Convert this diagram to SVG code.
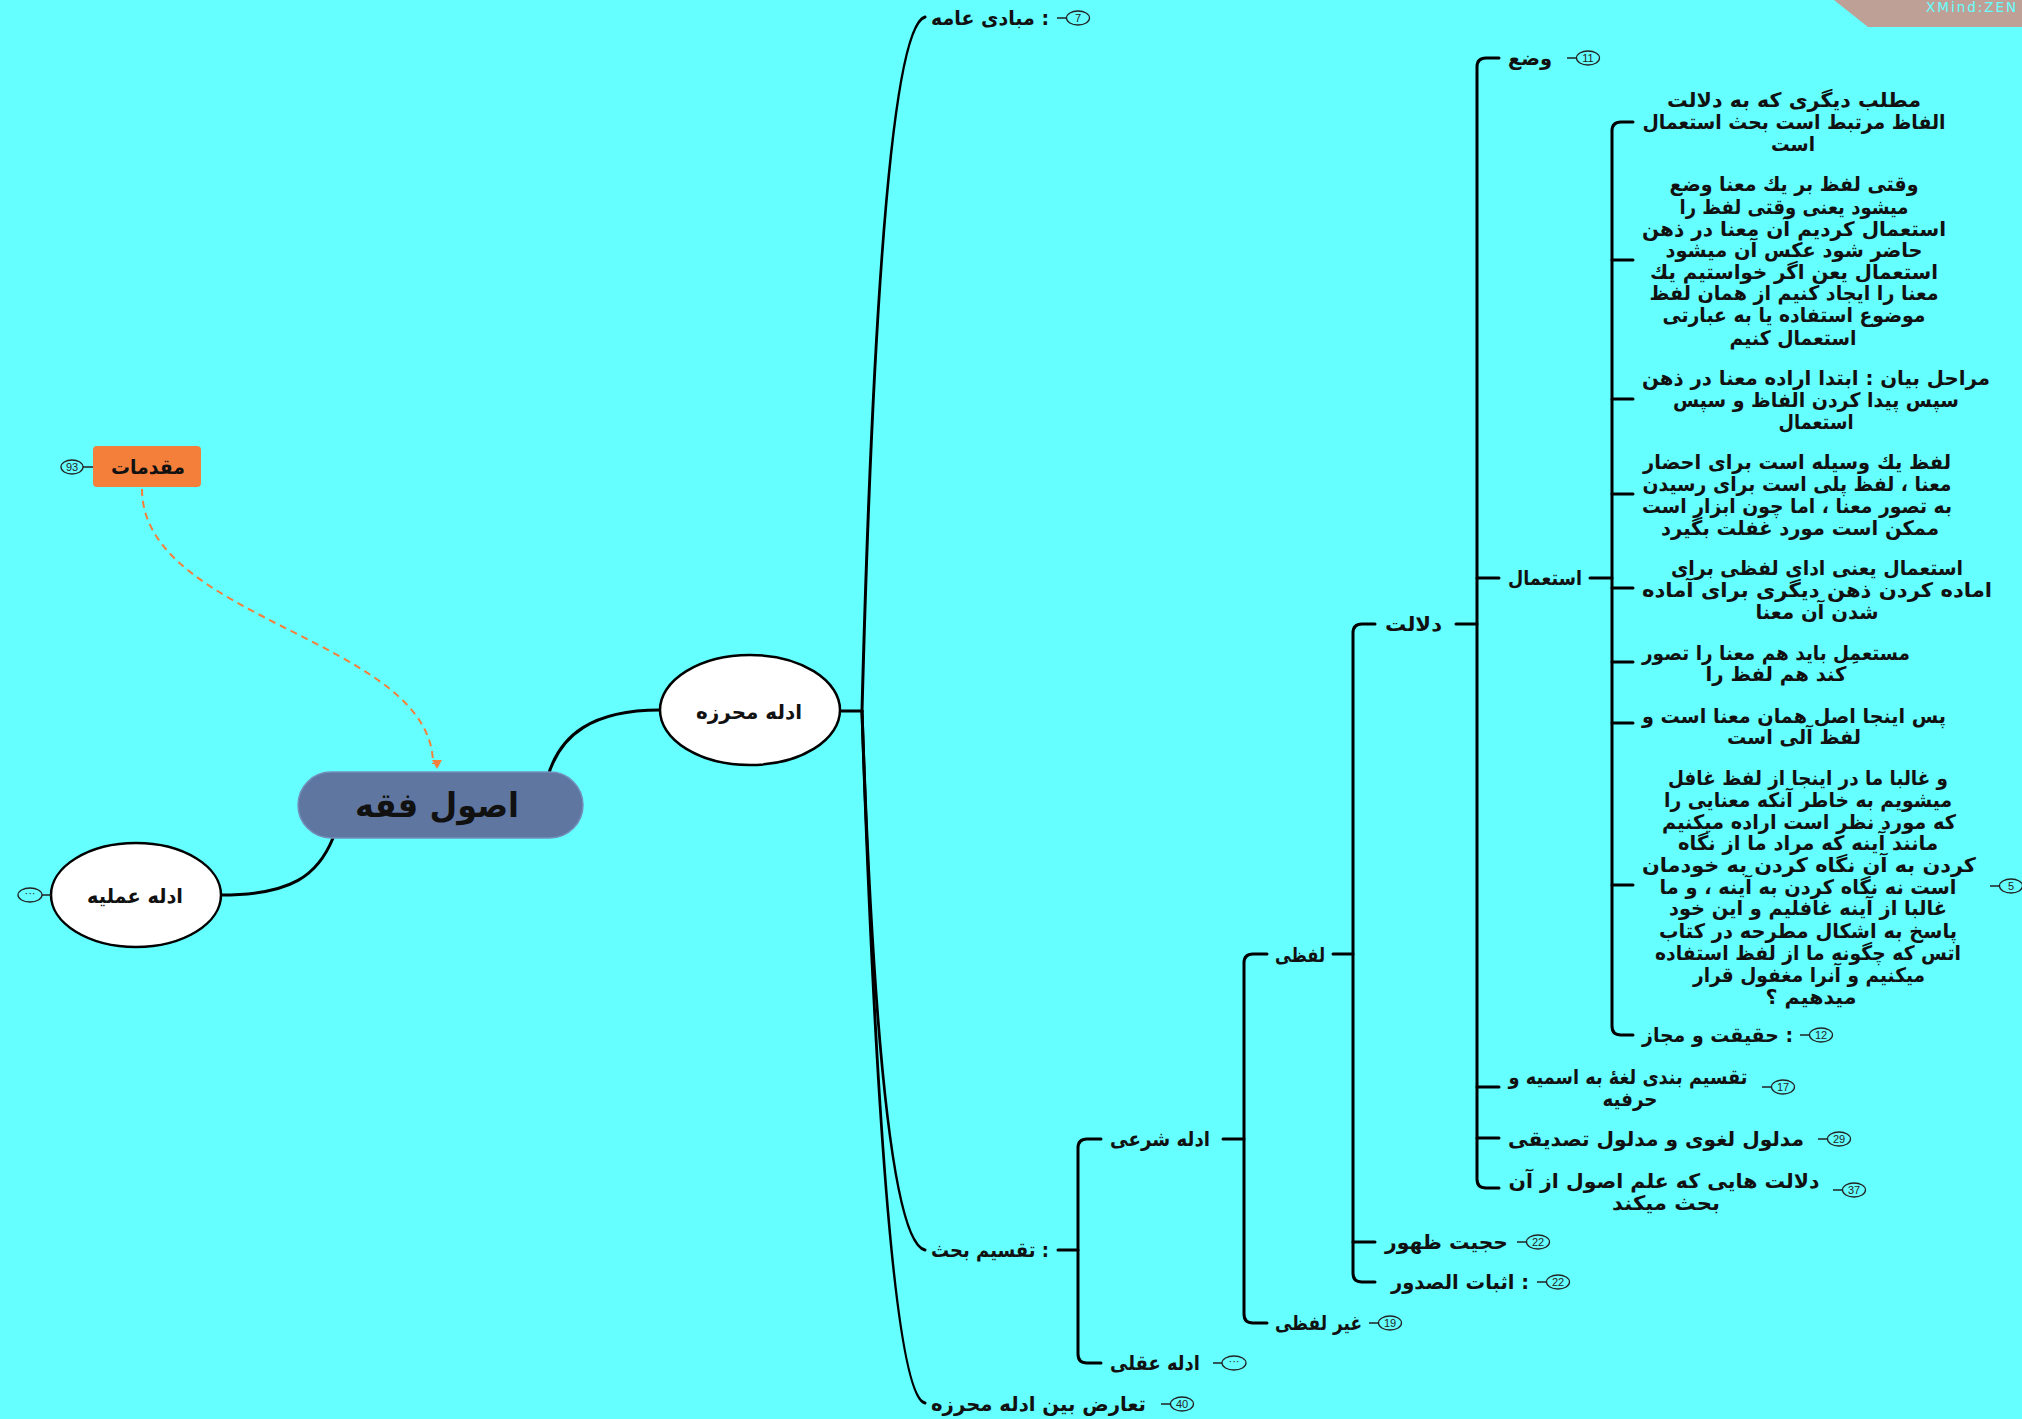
<svg xmlns="http://www.w3.org/2000/svg" width="2022" height="1419" viewBox="0 0 2022 1419">
<defs>
<style>
.t{font-family:"DejaVu Sans",sans-serif;font-weight:bold;font-size:20px;fill:#111;dominant-baseline:central;}
.c{text-anchor:middle;}
.big{font-size:34px;}
.m{font-size:20px;}
.bd{fill:none;stroke:#222;stroke-width:1.3;}
.bt{font-family:"Liberation Sans",sans-serif;font-size:11px;fill:#222;text-anchor:middle;dominant-baseline:central;}
.ln{fill:none;stroke:#000;stroke-width:3;stroke-linecap:round;stroke-linejoin:round;}
.bl{stroke:#222;stroke-width:1.5;}
.el{fill:#fff;stroke:#000;stroke-width:2.5;}
</style>
<marker id="arr" markerWidth="12" markerHeight="12" refX="6" refY="10" orient="auto-start-reverse" markerUnits="userSpaceOnUse" viewBox="0 0 12 12">
<path d="M1,2 L11,2 L6,11 Z" fill="#F47F3B" transform="rotate(-90 6 6)"/>
</marker>
</defs>
<rect x="0" y="0" width="2022" height="1419" fill="#66FFFF"/>

<polygon points="1834,0 1868,27 2022,27 2022,0" fill="#BFA097"/>
<text x="1926" y="12" font-family="DejaVu Sans,sans-serif" font-size="13.5" fill="#66FFFF" letter-spacing="2">XMind:ZEN</text>

<g id="connectors">
<path class="ln" d="M548,776 C560,735 592,710 660,710"/>
<path class="ln" d="M333,838 C318,875 292,895 221,895"/>
<path d="M142,489 C142,620 433,640 433,764" fill="none" stroke="#F47F3B" stroke-width="2" stroke-dasharray="7,5" marker-end="url(#arr)"/>
<path class="ln" d="M840,711 H862"/>
<path class="ln" d="M862,711 Q880,30 925,17"/>
<path class="ln" d="M862,711 Q880,1240 925,1250"/>
<path class="ln" d="M862,711 Q885,1395 925,1403"/>
<path class="ln" d="M1058,1250 H1078"/>
<path class="ln" d="M1101,1139 H1087 Q1078,1139 1078,1148 V1354 Q1078,1363 1087,1363 H1101"/>
<path class="ln" d="M1223,1139 H1244"/>
<path class="ln" d="M1267,954 H1253 Q1244,954 1244,963 V1314 Q1244,1323 1253,1323 H1267"/>
<path class="ln" d="M1333,954 H1353"/>
<path class="ln" d="M1375,624 H1362 Q1353,624 1353,633 V1273 Q1353,1282 1362,1282 H1375"/>
<path class="ln" d="M1353,1242 H1375"/>
<path class="ln" d="M1456,624 H1477"/>
<path class="ln" d="M1499,58 H1486 Q1477,58 1477,67 V1179 Q1477,1188 1486,1188 H1499"/>
<path class="ln" d="M1477,578 H1499"/>
<path class="ln" d="M1477,1087 H1499"/>
<path class="ln" d="M1477,1138 H1499"/>
<path class="ln" d="M1590,578 H1612"/>
<path class="ln" d="M1633,122 H1621 Q1612,122 1612,131 V1026 Q1612,1035 1621,1035 H1633"/>
<path class="ln" d="M1612,260 H1633"/>
<path class="ln" d="M1612,399 H1633"/>
<path class="ln" d="M1612,494 H1633"/>
<path class="ln" d="M1612,588 H1633"/>
<path class="ln" d="M1612,662 H1633"/>
<path class="ln" d="M1612,723 H1633"/>
<path class="ln" d="M1612,885 H1633"/>
</g>

<g id="n-moghadamat">
<rect x="93" y="446" width="108" height="41" rx="4" fill="#F47F3B"/>
<text class="t c m" x="148" y="467" textLength="74" lengthAdjust="spacingAndGlyphs">مقدمات</text>
<line class="bl" x1="83" y1="467" x2="93" y2="467"/>
<ellipse class="bd" cx="72" cy="467" rx="11" ry="7"/>
<text class="bt" x="72" y="467">93</text>
</g>

<g id="n-central">
<rect x="298" y="772" width="285" height="66" rx="33" fill="#5F77A0" stroke="#7390BD" stroke-width="1.5"/>
<text class="t c big" x="437" y="805" textLength="164" lengthAdjust="spacingAndGlyphs">اصول فقه</text>
</g>

<g id="n-adelle-mohraze">
<ellipse class="el" cx="750" cy="710" rx="90" ry="55"/>
<text class="t c" x="749" y="712" textLength="106" lengthAdjust="spacingAndGlyphs">ادله محرزه</text>
</g>

<g id="n-adelle-amalie">
<ellipse class="el" cx="136" cy="895" rx="85" ry="52"/>
<text class="t c" x="135" y="896" textLength="96" lengthAdjust="spacingAndGlyphs">ادله عملیه</text>
<line class="bl" x1="42" y1="895" x2="51" y2="895"/>
<ellipse class="bd" cx="30" cy="895" rx="12" ry="7"/>
<text class="bt" x="30" y="893">···</text>
</g>

<g id="n-mabadi">
<text class="t" x="931" y="18" textLength="118" lengthAdjust="spacingAndGlyphs">مبادی عامه :</text>
<line class="bl" x1="1057" y1="18" x2="1066" y2="18"/>
<ellipse class="bd" cx="1078" cy="18" rx="11.5" ry="7"/>
<text class="bt" x="1078" y="18">7</text>
</g>

<g id="n-taghsim">
<text class="t" x="931" y="1250" textLength="118" lengthAdjust="spacingAndGlyphs">تقسیم بحث :</text>
</g>

<g id="n-taaroz">
<text class="t" x="931" y="1404" textLength="215" lengthAdjust="spacingAndGlyphs">تعارض بین ادله محرزه</text>
<line class="bl" x1="1161" y1="1404" x2="1170" y2="1404"/>
<ellipse class="bd" cx="1182" cy="1404" rx="11.5" ry="7"/>
<text class="bt" x="1182" y="1404">40</text>
</g>

<g id="n-sharei">
<text class="t" x="1110" y="1139" textLength="100" lengthAdjust="spacingAndGlyphs">ادله شرعی</text>
</g>

<g id="n-aghli">
<text class="t" x="1110" y="1363" textLength="90" lengthAdjust="spacingAndGlyphs">ادله عقلی</text>
<line class="bl" x1="1213" y1="1363" x2="1222" y2="1363"/>
<ellipse class="bd" cx="1234" cy="1363" rx="12" ry="7"/>
<text class="bt" x="1234" y="1361">···</text>
</g>

<g id="n-lafzi">
<text class="t" x="1275" y="955" textLength="50" lengthAdjust="spacingAndGlyphs">لفظی</text>
</g>

<g id="n-gheyr-lafzi">
<text class="t" x="1275" y="1323" textLength="87" lengthAdjust="spacingAndGlyphs">غیر لفظی</text>
<line class="bl" x1="1369" y1="1323" x2="1378" y2="1323"/>
<ellipse class="bd" cx="1390" cy="1323" rx="11.5" ry="7"/>
<text class="bt" x="1390" y="1323">19</text>
</g>

<g id="n-dalalat">
<text class="t" x="1385" y="624" textLength="57" lengthAdjust="spacingAndGlyphs">دلالت</text>
</g>

<g id="n-hojjiat">
<text class="t" x="1385" y="1242" textLength="123" lengthAdjust="spacingAndGlyphs">حجیت ظهور</text>
<line class="bl" x1="1517" y1="1242" x2="1526" y2="1242"/>
<ellipse class="bd" cx="1538" cy="1242" rx="11.5" ry="7"/>
<text class="bt" x="1538" y="1242">22</text>
</g>

<g id="n-esbat">
<text class="t" x="1391" y="1282" textLength="138" lengthAdjust="spacingAndGlyphs">اثبات الصدور :</text>
<line class="bl" x1="1537" y1="1282" x2="1546" y2="1282"/>
<ellipse class="bd" cx="1558" cy="1282" rx="11.5" ry="7"/>
<text class="bt" x="1558" y="1282">22</text>
</g>

<g id="n-vaz">
<text class="t" x="1508" y="58" textLength="44" lengthAdjust="spacingAndGlyphs">وضع</text>
<line class="bl" x1="1567" y1="58" x2="1576" y2="58"/>
<ellipse class="bd" cx="1588" cy="58" rx="11.5" ry="7"/>
<text class="bt" x="1588" y="58">11</text>
</g>

<g id="n-estemal">
<text class="t" x="1508" y="578" textLength="74" lengthAdjust="spacingAndGlyphs">استعمال</text>
</g>

<g id="n-taghsim-loghat">
<text class="t c" x="1628" y="1077" textLength="239" lengthAdjust="spacingAndGlyphs">تقسیم بندی لغهٔ به اسمیه و</text>
<text class="t c" x="1630" y="1099" textLength="55" lengthAdjust="spacingAndGlyphs">حرفیه</text>
<line class="bl" x1="1762" y1="1087" x2="1771" y2="1087"/>
<ellipse class="bd" cx="1783" cy="1087" rx="11.5" ry="7"/>
<text class="bt" x="1783" y="1087">17</text>
</g>

<g id="n-madlul">
<text class="t" x="1508" y="1139" textLength="296" lengthAdjust="spacingAndGlyphs">مدلول لغوی و مدلول تصدیقی</text>
<line class="bl" x1="1818" y1="1139" x2="1827" y2="1139"/>
<ellipse class="bd" cx="1839" cy="1139" rx="11.5" ry="7"/>
<text class="bt" x="1839" y="1139">29</text>
</g>

<g id="n-dalalat-haei">
<text class="t c" x="1664" y="1181" textLength="311" lengthAdjust="spacingAndGlyphs">دلالت هایی که علم اصول از آن</text>
<text class="t c" x="1666" y="1203" textLength="108" lengthAdjust="spacingAndGlyphs">بحث میکند</text>
<line class="bl" x1="1833" y1="1190" x2="1842" y2="1190"/>
<ellipse class="bd" cx="1854" cy="1190" rx="11.5" ry="7"/>
<text class="bt" x="1854" y="1190">37</text>
</g>

<g id="n-b1">
<text class="t c" x="1794" y="100" textLength="254" lengthAdjust="spacingAndGlyphs">مطلب دیگری که به دلالت</text>
<text class="t c" x="1794" y="122" textLength="303" lengthAdjust="spacingAndGlyphs">الفاظ مرتبط است بحث استعمال</text>
<text class="t c" x="1793" y="144" textLength="44" lengthAdjust="spacingAndGlyphs">است</text>
</g>

<g id="n-b2">
<text class="t c" x="1794" y="184" textLength="249" lengthAdjust="spacingAndGlyphs">وقتی لفظ بر یك معنا وضع</text>
<text class="t c" x="1794" y="207" textLength="229" lengthAdjust="spacingAndGlyphs">میشود یعنی وقتی لفظ را</text>
<text class="t c" x="1794" y="229" textLength="304" lengthAdjust="spacingAndGlyphs">استعمال کردیم آن معنا در ذهن</text>
<text class="t c" x="1794" y="250" textLength="257" lengthAdjust="spacingAndGlyphs">حاضر شود عکس آن میشود</text>
<text class="t c" x="1794" y="272" textLength="288" lengthAdjust="spacingAndGlyphs">استعمال یعن اگر خواستیم یك</text>
<text class="t c" x="1794" y="293" textLength="289" lengthAdjust="spacingAndGlyphs">معنا را ایجاد کنیم از همان لفظ</text>
<text class="t c" x="1794" y="315" textLength="263" lengthAdjust="spacingAndGlyphs">موضوع استفاده یا به عبارتی</text>
<text class="t c" x="1793" y="338" textLength="127" lengthAdjust="spacingAndGlyphs">استعمال کنیم</text>
</g>

<g id="n-b3">
<text class="t c" x="1816" y="378" textLength="348" lengthAdjust="spacingAndGlyphs">مراحل بیان : ابتدا اراده معنا در ذهن</text>
<text class="t c" x="1816" y="400" textLength="286" lengthAdjust="spacingAndGlyphs">سپس پیدا کردن الفاظ و سپس</text>
<text class="t c" x="1816" y="422" textLength="75" lengthAdjust="spacingAndGlyphs">استعمال</text>
</g>

<g id="n-b4">
<text class="t c" x="1797" y="462" textLength="308" lengthAdjust="spacingAndGlyphs">لفظ یك وسیله است برای احضار</text>
<text class="t c" x="1797" y="484" textLength="309" lengthAdjust="spacingAndGlyphs">معنا ، لفظ پلی است برای رسیدن</text>
<text class="t c" x="1797" y="506" textLength="310" lengthAdjust="spacingAndGlyphs">به تصور معنا ، اما چون ابزار است</text>
<text class="t c" x="1800" y="528" textLength="278" lengthAdjust="spacingAndGlyphs">ممکن است مورد غفلت بگیرد</text>
</g>

<g id="n-b5">
<text class="t c" x="1817" y="568" textLength="292" lengthAdjust="spacingAndGlyphs">استعمال یعنی ادای لفظی برای</text>
<text class="t c" x="1817" y="590" textLength="350" lengthAdjust="spacingAndGlyphs">اماده کردن ذهن دیگری برای آماده</text>
<text class="t c" x="1817" y="612" textLength="123" lengthAdjust="spacingAndGlyphs">شدن آن معنا</text>
</g>

<g id="n-b6">
<text class="t c" x="1776" y="653" textLength="268" lengthAdjust="spacingAndGlyphs">مستعمِل باید هم معنا را تصور</text>
<text class="t c" x="1776" y="674" textLength="141" lengthAdjust="spacingAndGlyphs">کند هم لفظ را</text>
</g>

<g id="n-b7">
<text class="t c" x="1794" y="716" textLength="304" lengthAdjust="spacingAndGlyphs">پس اینجا اصل همان معنا است و</text>
<text class="t c" x="1794" y="737" textLength="134" lengthAdjust="spacingAndGlyphs">لفظ آلی است</text>
</g>

<g id="n-b8">
<text class="t c" x="1808" y="778" textLength="280" lengthAdjust="spacingAndGlyphs">و غالبا ما در اینجا از لفظ غافل</text>
<text class="t c" x="1808" y="800" textLength="288" lengthAdjust="spacingAndGlyphs">میشویم به خاطر آنکه معنایی را</text>
<text class="t c" x="1809" y="822" textLength="294" lengthAdjust="spacingAndGlyphs">که مورد نظر است اراده میکنیم</text>
<text class="t c" x="1808" y="843" textLength="260" lengthAdjust="spacingAndGlyphs">مانند آینه که مراد ما از نگاه</text>
<text class="t c" x="1809" y="865" textLength="334" lengthAdjust="spacingAndGlyphs">کردن به آن نگاه کردن به خودمان</text>
<text class="t c" x="1808" y="887" textLength="297" lengthAdjust="spacingAndGlyphs">است نه نگاه کردن به آینه ، و ما</text>
<text class="t c" x="1808" y="908" textLength="278" lengthAdjust="spacingAndGlyphs">غالبا از آینه غافلیم و این خود</text>
<text class="t c" x="1808" y="931" textLength="298" lengthAdjust="spacingAndGlyphs">پاسخ به اشکال مطرحه در کتاب</text>
<text class="t c" x="1808" y="953" textLength="306" lengthAdjust="spacingAndGlyphs">اتس که چگونه ما از لفظ استفاده</text>
<text class="t c" x="1809" y="975" textLength="232" lengthAdjust="spacingAndGlyphs">میکنیم و آنرا مغفول قرار</text>
<text class="t c" x="1811" y="997" textLength="91" lengthAdjust="spacingAndGlyphs">میدهیم ؟</text>
<line class="bl" x1="1990" y1="886" x2="1999" y2="886"/>
<ellipse class="bd" cx="2011" cy="886" rx="11.5" ry="7"/>
<text class="bt" x="2011" y="886">5</text>
</g>

<g id="n-haghighat">
<text class="t" x="1642" y="1035" textLength="151" lengthAdjust="spacingAndGlyphs">حقیقت و مجاز :</text>
<line class="bl" x1="1800" y1="1035" x2="1809" y2="1035"/>
<ellipse class="bd" cx="1821" cy="1035" rx="11.5" ry="7"/>
<text class="bt" x="1821" y="1035">12</text>
</g>
</svg>
